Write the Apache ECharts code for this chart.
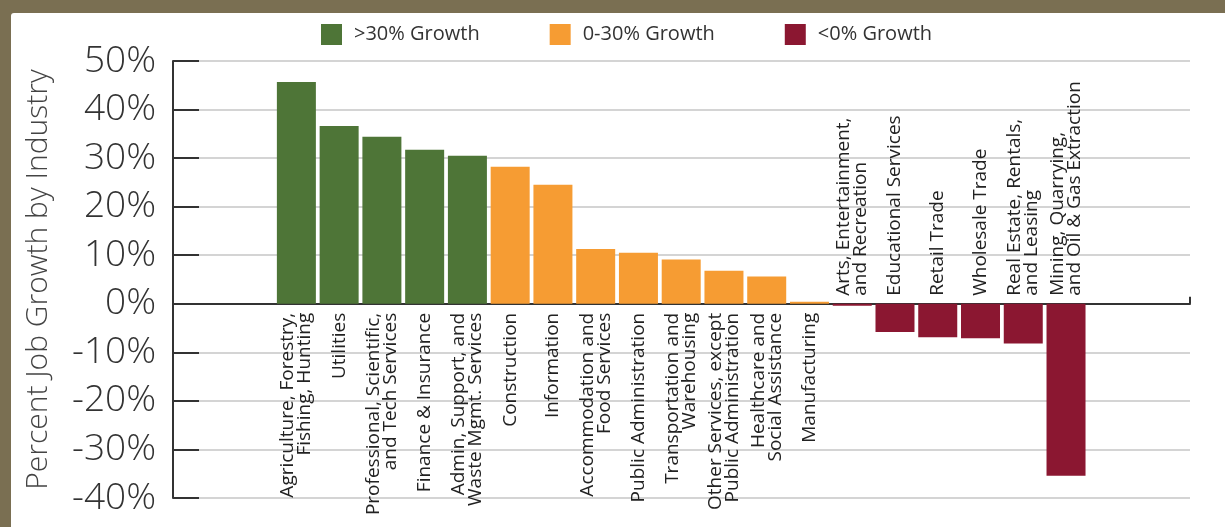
<!DOCTYPE html>
<html>
<head>
<meta charset="utf-8">
<script src="https://cdn.jsdelivr.net/npm/echarts@6/dist/echarts.min.js"></script>
<style>
  html, body { margin: 0; padding: 0; }
  body { width: 1225px; height: 527px; background: #7a6f52; position: relative; overflow: hidden; }
  #paper { position: absolute; left: 11px; top: 13px; right: 0; bottom: 0; background: #ffffff; border-top-left-radius: 3px; }
  #chart { position: absolute; left: 0; top: 0; width: 1225px; height: 527px; }
</style>
</head>
<body>
<div id="paper"></div>
<div id="chart"></div>
<script>
// ---- data ----
const categories = [
  'Agriculture, Forestry,\nFishing, Hunting',
  'Utilities',
  'Professional, Scientific,\nand Tech Services',
  'Finance & Insurance',
  'Admin, Support, and\nWaste Mgmt. Services',
  'Construction',
  'Information',
  'Accommodation and\nFood Services',
  'Public Administration',
  'Transportation and\nWarehousing',
  'Other Services, except\nPublic Administration',
  'Healthcare and\nSocial Assistance',
  'Manufacturing',
  'Arts, Entertainment,\nand Recreation',
  'Educational Services',
  'Retail Trade',
  'Wholesale Trade',
  'Real Estate, Rentals,\nand Leasing',
  'Mining, Quarrying,\nand Oil & Gas Extraction'
];
const growthValues = [45.7, 36.6, 34.4, 31.7, 30.5, 28.2, 24.5, 11.3, 10.5, 9.1, 6.8, 5.6, 0.4, -0.4, -5.8, -6.9, -7.1, -8.2, -35.4];
const groupNames = ['>30% Growth', '0-30% Growth', '<0% Growth'];
const groupColors = ['#4e7537', '#f69c33', '#8b1731'];
const yTicks = [-40, -30, -20, -10, 0, 10, 20, 30, 40, 50];
const yAxisTitle = 'Percent Job Growth by Industry';

const FONT = '"Open Sans", "Noto Sans", sans-serif';

function groupOf(v) { return v > 30 ? 0 : (v >= 0 ? 1 : 2); }

// category names are written at the zero line: below it for growth, above it for decline
const labelBelow = {
  show: true, position: 'bottom', distance: 9, rotate: 90,
  align: 'right', verticalAlign: 'middle',
  fontFamily: FONT, fontSize: 19, lineHeight: 17, color: '#222',
  formatter: p => p.name
};
const labelAbove = Object.assign({}, labelBelow, { position: 'top', distance: 8, align: 'left' });

const seriesList = groupNames.map((name, g) => ({
  name: name,
  type: 'bar',
  xAxisIndex: 0,
  yAxisIndex: 0,
  barWidth: 39,
  barGap: '-100%',
  itemStyle: { color: groupColors[g] },
  label: g === 2 ? labelAbove : labelBelow,
  labelLayout: { hideOverlap: false },
  data: growthValues.map(v => groupOf(v) === g ? v : '-')
}));

const chart = echarts.init(document.getElementById('chart'), null, { renderer: 'canvas' });
chart.setOption({
  animation: false,
  backgroundColor: 'transparent',
  legend: {
    left: 321,
    top: 24,
    padding: 0,
    itemWidth: 21,
    itemHeight: 21,
    itemGap: 70,
    icon: 'rect',
    data: groupNames,
    textStyle: { fontFamily: FONT, fontSize: 20, color: '#333', padding: [0, 0, 0, 7] }
  },
  grid: [
    { left: 275, right: 137.6, top: 61, bottom: 29, outerBoundsMode: 'none', containLabel: false },
    { left: 173, right: 35, top: 61, bottom: 29, outerBoundsMode: 'none', containLabel: false }
  ],
  xAxis: [
    {
      type: 'category', gridIndex: 0, data: categories,
      axisLine: { show: false }, axisTick: { show: false }, axisLabel: { show: false },
      splitLine: { show: false }
    },
    {
      type: 'value', gridIndex: 1, min: 0, max: 1, interval: 1,
      axisLine: { show: true, onZero: true, lineStyle: { color: '#333', width: 2 } },
      axisTick: { show: true, inside: true, length: 7, lineStyle: { color: '#333', width: 2 } },
      axisLabel: { show: false },
      splitLine: { show: false }
    }
  ],
  yAxis: [
    {
      type: 'value', gridIndex: 0, min: -40, max: 50, interval: 10,
      axisLine: { show: false }, axisTick: { show: false }, axisLabel: { show: false },
      splitLine: { show: false }
    },
    {
      type: 'value', gridIndex: 1, min: yTicks[0], max: yTicks[yTicks.length - 1], interval: 10,
      name: yAxisTitle,
      nameLocation: 'middle',
      nameGap: 120,
      nameTextStyle: { fontFamily: FONT, fontSize: 30, color: '#444', fontWeight: 300 },
      axisLine: { show: true, lineStyle: { color: '#333', width: 2 } },
      axisTick: { show: true, inside: true, length: 26, lineStyle: { color: '#333', width: 2 } },
      axisLabel: {
        margin: 17, fontFamily: FONT, fontSize: 37, color: '#333', fontWeight: 300,
        formatter: '{value}%'
      },
      splitLine: { show: true, lineStyle: { color: '#d4d4d4', width: 2 } }
    }
  ],
  series: seriesList
});
</script>
</body>
</html>
